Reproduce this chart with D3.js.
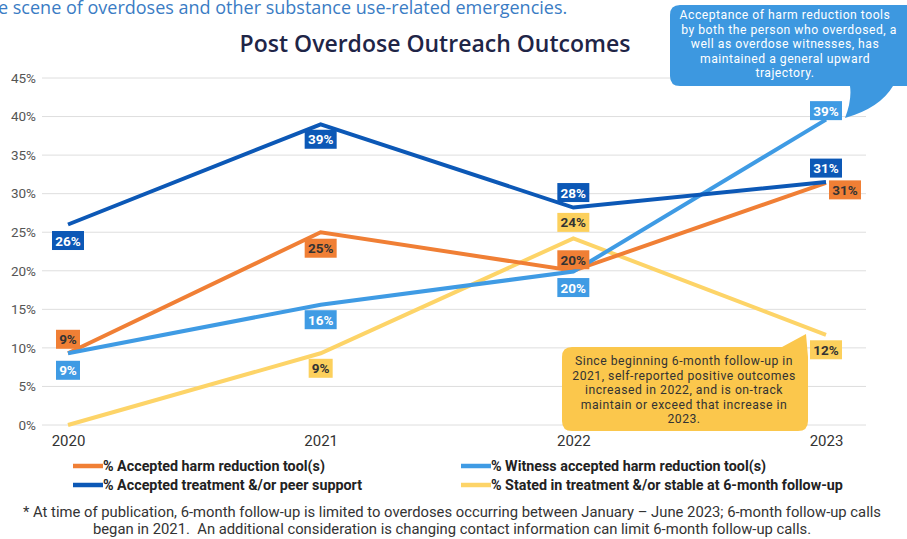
<!DOCTYPE html>
<html><head><meta charset="utf-8">
<script src="https://cdn.jsdelivr.net/npm/d3@7"></script>
<style>
body{margin:0;background:#fff;}
svg{display:block;font-family:Roboto,"Noto Sans",sans-serif;}
</style></head>
<body><svg id="c" width="907" height="539"></svg>
<script>
const years = ["2020","2021","2022","2023"];
const yTicks = [0,0.05,0.10,0.15,0.20,0.25,0.30,0.35,0.40,0.45];
const accepted = [0.093,0.250,0.200,0.314];
const witness = [0.093,0.156,0.199,0.396];
const treatment = [0.260,0.390,0.282,0.315];
const stable = [0.000,0.093,0.242,0.117];
const acceptedLabels = ["9%","25%","20%","31%"];
const witnessLabels = ["9%","16%","20%","39%"];
const treatmentLabels = ["26%","39%","28%","31%"];
const stableLabels = [null,"9%","24%","12%"];
const seriesNames = ["% Accepted harm reduction tool(s)","% Witness accepted harm reduction tool(s)","% Accepted treatment &/or peer support","% Stated in treatment &/or stable at 6-month follow-up"];

const svg = d3.select("#c");
const x = d3.scalePoint().domain(years).range([68,826]);
const y = d3.scaleLinear().domain([0,0.45]).range([425,78]);

// top text
svg.append("text").attr("x",-2).attr("y",14).attr("font-size",18).attr("fill","#3a7cc4")
  .attr("font-family","'Open Sans',sans-serif")
  .text("e scene of overdoses and other substance use-related emergencies.");

// title
svg.append("text").attr("x",435).attr("y",52).attr("text-anchor","middle").attr("font-size",23)
  .attr("font-weight","600").attr("font-family","'Open Sans',sans-serif")
  .attr("fill","#1f2547").text("Post Overdose Outreach Outcomes");

// gridlines
svg.append("g").selectAll("line").data(yTicks).join("line")
  .attr("x1",42).attr("x2",866).attr("y1",d=>y(d)).attr("y2",d=>y(d))
  .attr("stroke","#dedede").attr("stroke-width",1);

// y axis
const yAxis = d3.axisLeft(y).tickValues(yTicks).tickFormat(d3.format(".0%")).tickSize(0).tickPadding(4);
const gy = svg.append("g").attr("transform","translate(40,0)").call(yAxis);
gy.select(".domain").remove();
gy.selectAll("text").attr("font-size",13.5).attr("fill","#555").attr("font-family","Roboto,sans-serif");

// x axis
const xAxis = d3.axisBottom(x).tickSize(0).tickPadding(10);
const gx = svg.append("g").attr("transform","translate(0,425)").call(xAxis);
gx.select(".domain").remove();
gx.selectAll("text").attr("font-size",15).attr("fill","#333").attr("font-family","Roboto,sans-serif");

const series = [
  {vals:stable, labels:stableLabels, color:"#fdd468", box:"#fcd05c", txt:"#333", off:[[0,0],[0,15],[0,-16],[0,15]]},
  {vals:accepted, labels:acceptedLabels, color:"#f07f35", box:"#f07f35", txt:"#333", off:[[0,-14],[0,16],[0,-11],[19,7]]},
  {vals:witness, labels:witnessLabels, color:"#3f9be4", box:"#3f9be4", txt:"#fff", off:[[0,17],[0,15],[0,16],[0,-9]]},
  {vals:treatment, labels:treatmentLabels, color:"#0c58b6", box:"#0c58b6", txt:"#fff", off:[[0,16],[0,15],[0,-15],[0,-14]]}
];

const line = d3.line().x((d,i)=>x(years[i])).y(d=>y(d));
series.forEach(s=>{
  svg.append("path").datum(s.vals).attr("d",line).attr("fill","none")
    .attr("stroke",s.color).attr("stroke-width",4).attr("stroke-linejoin","miter");
});

// labels
series.forEach(s=>{
  s.vals.forEach((v,i)=>{
    if(!s.labels[i]) return;
    const cx = x(years[i]) + s.off[i][0], cy = y(v) + s.off[i][1];
    const w = s.labels[i].length>2 ? 32 : 24, h = 19;
    const g = svg.append("g");
    g.append("rect").attr("x",cx-w/2).attr("y",cy-h/2).attr("width",w).attr("height",h).attr("fill",s.box);
    g.append("text").attr("x",cx).attr("y",cy+5).attr("text-anchor","middle").attr("font-size",13.5)
      .attr("font-weight","bold").attr("fill",s.txt).text(s.labels[i]);
  });
});

// multi-line text helper
function multiline(lines, cx, y0, lh, size, fill, xs){
  const t = svg.append("text").attr("text-anchor","middle").attr("font-size",size).attr("fill",fill)
    .attr("font-family","Roboto,sans-serif").attr("letter-spacing",0.5);
  lines.forEach((l,i)=>{
    t.append("tspan").attr("x", xs ? xs[i] : cx).attr("y", y0 + i*lh).text(l);
  });
  return t;
}

// blue callout
svg.append("path").attr("fill","#3d98e0")
  .attr("d","M680,5 L915,5 L915,86 L893,86 Q880,108 845,118 Q852,100 850,86 L680,86 Q670,86 670,76 L670,15 Q670,5 680,5 Z");
const blueLines = ["Acceptance of harm reduction tools","by both the person who overdosed, a","well as overdose witnesses, has","maintained a general upward","trajectory."];
multiline(blueLines, 785, 19, 14.6, 12.2, "#fff", [785,789,785,785,785]);

// yellow callout
svg.append("path").attr("fill","#fbc74c")
  .attr("d","M572,347 L782,347 L806,334 L808,357 L808,421 Q808,431 798,431 L572,431 Q562,431 562,421 L562,357 Q562,347 572,347 Z");
const yellowLines = ["Since beginning 6-month follow-up in","2021, self-reported positive outcomes","increased in 2022, and is on-track","maintain or exceed that increase in","2023."];
multiline(yellowLines, 684, 365, 14.6, 12.2, "#333");

// legend
const legendPos = [[73,466],[461,466],[73,485],[461,485]];
const legendColors = ["#f07f35","#3f9be4","#0c58b6","#fdd468"];
seriesNames.forEach((n,i)=>{
  const [lx,ly] = legendPos[i];
  svg.append("line").attr("x1",lx).attr("x2",lx+30).attr("y1",ly).attr("y2",ly)
    .attr("stroke",legendColors[i]).attr("stroke-width",4.5);
  svg.append("text").attr("x",lx+30).attr("y",ly+5).attr("font-size",14.3).attr("font-weight","bold")
    .attr("fill","#222").text(n);
});

// footnote
const foot = ["* At time of publication, 6-month follow-up is limited to overdoses occurring between January \u2013 June 2023; 6-month follow-up calls","began in 2021.  An additional consideration is changing contact information can limit 6-month follow-up calls."];
svg.append("g").selectAll("text").data(foot).join("text")
  .attr("x",452).attr("y",(d,i)=>517+i*17).attr("text-anchor","middle").attr("font-size",14.8)
  .attr("fill","#333").style("white-space","pre").text(d=>d);
</script></body></html>
